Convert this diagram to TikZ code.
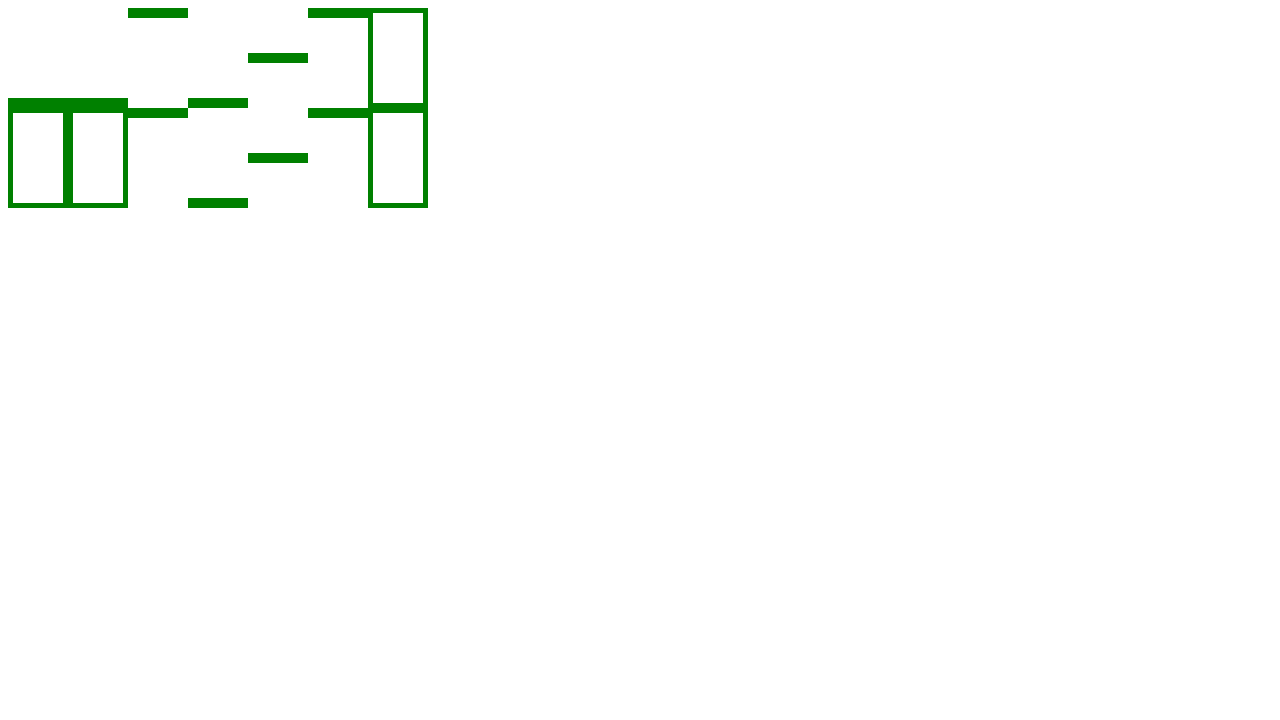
\documentclass[tikz,border=0pt]{standalone}
\definecolor{leafgreen}{RGB}{0,128,0}
\tikzset{
  greenbar/.style={fill=leafgreen, draw=none},
  greenbox/.style={draw=leafgreen, line width=5pt, fill=white}
}
\begin{document}
\begin{tikzpicture}[x=1pt, y=-1pt]
\useasboundingbox[fill=white] (0,0) rectangle (1280,720);
% horizontal bars (60 x 10)
\fill[greenbar] (8,98) rectangle (128,108);
\fill[greenbar] (128,8) rectangle (188,18);
\fill[greenbar] (128,108) rectangle (188,118);
\fill[greenbar] (188,98) rectangle (248,108);
\fill[greenbar] (188,198) rectangle (248,208);
\fill[greenbar] (248,53) rectangle (308,63);
\fill[greenbar] (248,153) rectangle (308,163);
\fill[greenbar] (308,8) rectangle (368,18);
\fill[greenbar] (308,108) rectangle (368,118);
% framed boxes
\draw[greenbox] (10.5,110.5) rectangle (65.5,205.5);
\draw[greenbox] (70.5,110.5) rectangle (125.5,205.5);
\draw[greenbox] (370.5,10.5) rectangle (425.5,105.5);
\draw[greenbox] (370.5,110.5) rectangle (425.5,205.5);
\end{tikzpicture}
\end{document}
